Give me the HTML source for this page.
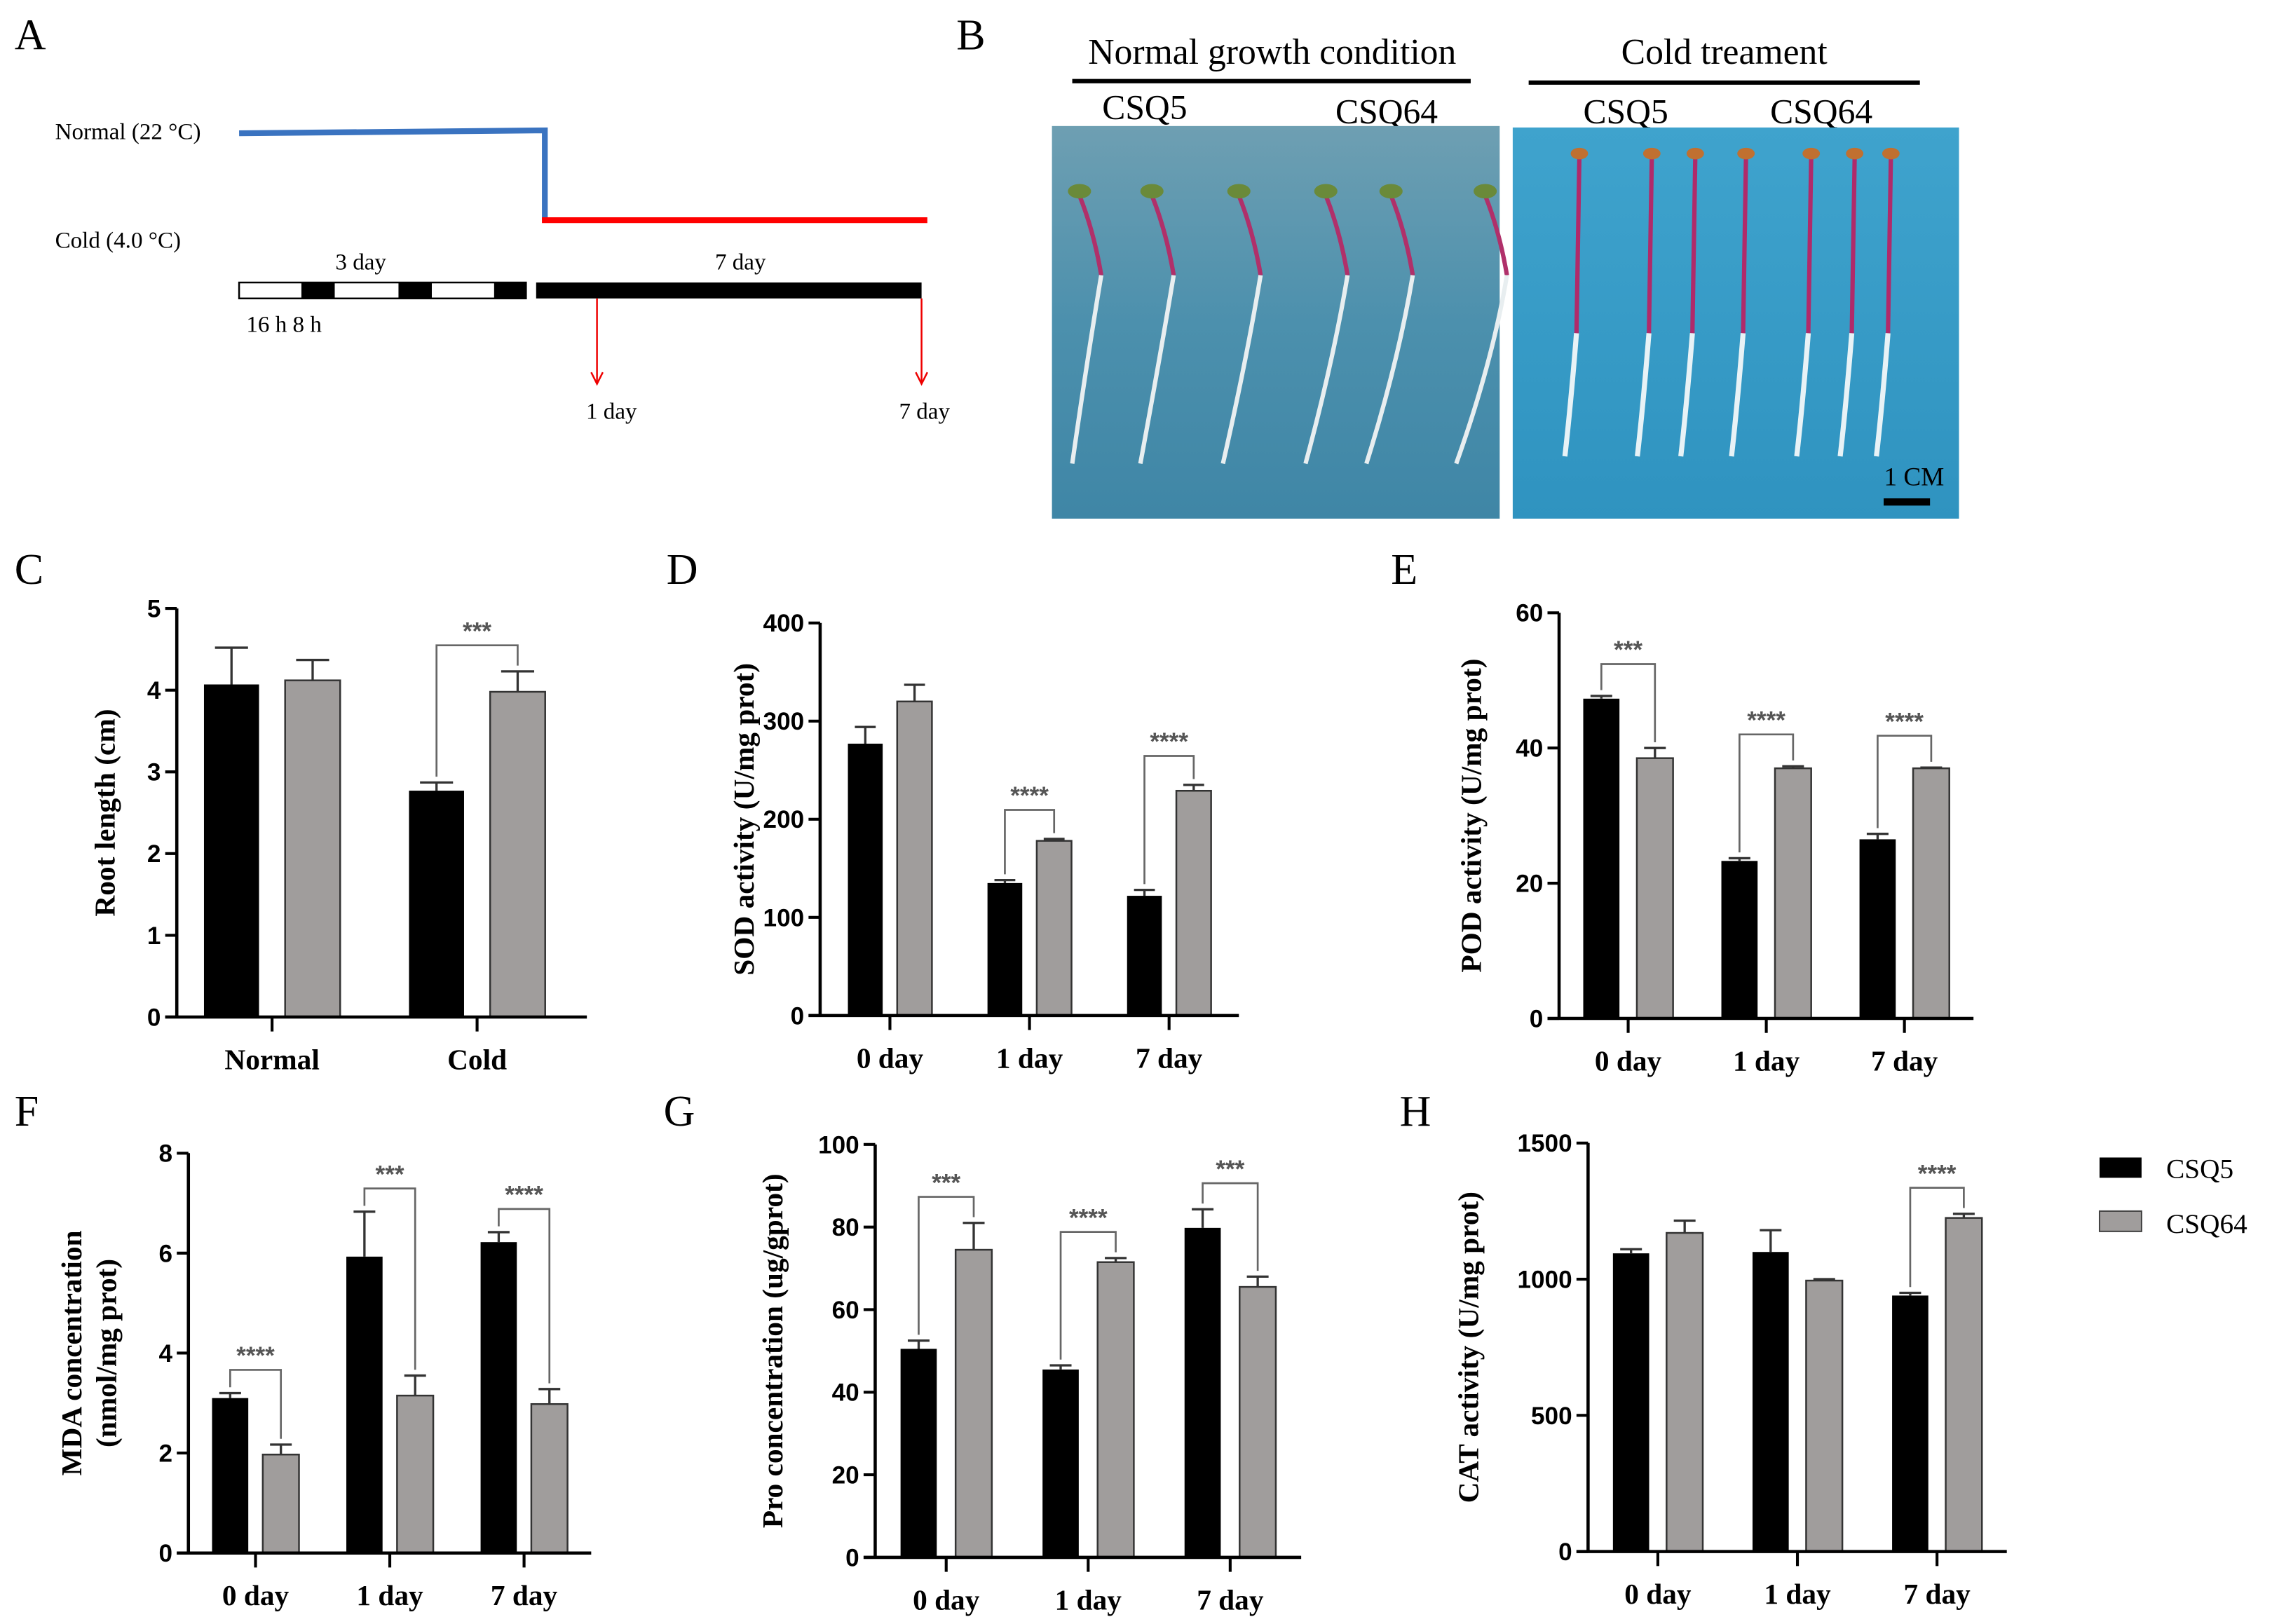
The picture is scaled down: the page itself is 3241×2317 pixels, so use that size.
<!DOCTYPE html>
<html><head><meta charset="utf-8"><style>
html,body{margin:0;padding:0;background:#fff;}
svg{display:block;}
.lbl{font-family:"Liberation Serif",serif;}
.tick{font-family:"Liberation Sans",sans-serif;font-weight:bold;font-size:17px;}
.cat{font-family:"Liberation Serif",serif;font-weight:bold;font-size:20px;}
.ytitle{font-family:"Liberation Serif",serif;font-weight:bold;font-size:20px;}
.star{font-family:"Liberation Sans",sans-serif;font-weight:bold;font-size:17px;fill:#555;}
</style></head><body>
<svg id="fig" width="3241" height="2317" viewBox="0 0 1568 1121" xmlns="http://www.w3.org/2000/svg">
<defs>
<linearGradient id="plateL" x1="0" y1="0" x2="0" y2="1"><stop offset="0" stop-color="#6e9fb2"/><stop offset="0.5" stop-color="#4c90ad"/><stop offset="1" stop-color="#3f86a6"/></linearGradient>
<linearGradient id="plateR" x1="0" y1="0" x2="0" y2="1"><stop offset="0" stop-color="#3fa3cd"/><stop offset="1" stop-color="#2f93c0"/></linearGradient>
</defs>
<g class="lbl" font-size="30">
<text x="10" y="34">A</text><text x="660" y="34">B</text>
<text x="10" y="403">C</text><text x="460" y="403">D</text><text x="960" y="403">E</text>
<text x="10" y="777">F</text><text x="458" y="777">G</text><text x="966" y="777">H</text>
</g>
<g>
<text class="lbl" x="38" y="96" font-size="16">Normal (22 °C)</text>
<text class="lbl" x="38" y="171" font-size="16">Cold (4.0 °C)</text>
<polyline points="165,92 376,90 376,152" fill="none" stroke="#3a73c0" stroke-width="4"/>
<line x1="374" y1="152" x2="640" y2="152" stroke="#f00" stroke-width="4"/>
<rect x="165" y="195" width="198" height="11" fill="#fff" stroke="#000" stroke-width="1.2"/>
<rect x="208" y="195" width="23" height="11" fill="#000"/>
<rect x="275" y="195" width="23" height="11" fill="#000"/>
<rect x="341" y="195" width="22" height="11" fill="#000"/>
<rect x="370" y="195" width="266" height="11" fill="#000"/>
<text class="lbl" x="249" y="186" font-size="16" text-anchor="middle">3 day</text>
<text class="lbl" x="511" y="186" font-size="16" text-anchor="middle">7 day</text>
<text class="lbl" x="170" y="229" font-size="16">16 h  8 h</text>
<line x1="412" y1="206" x2="412" y2="264" stroke="#e00" stroke-width="1.2"/>
<polyline points="408,257 412,265 416,257" fill="none" stroke="#e00" stroke-width="1.2"/>
<line x1="636" y1="206" x2="636" y2="264" stroke="#e00" stroke-width="1.2"/>
<polyline points="632,257 636,265 640,257" fill="none" stroke="#e00" stroke-width="1.2"/>
<text class="lbl" x="422" y="289" font-size="16" text-anchor="middle">1 day</text>
<text class="lbl" x="638" y="289" font-size="16" text-anchor="middle">7 day</text>
</g>
<g>
<text class="lbl" x="878" y="44" font-size="25" text-anchor="middle">Normal growth condition</text>
<line x1="740" y1="56" x2="1015" y2="56" stroke="#000" stroke-width="3"/>
<text class="lbl" x="1190" y="44" font-size="25" text-anchor="middle">Cold treament</text>
<line x1="1055" y1="57" x2="1325" y2="57" stroke="#000" stroke-width="3"/>
<text class="lbl" x="790" y="82" font-size="24" text-anchor="middle">CSQ5</text>
<text class="lbl" x="957" y="85" font-size="24" text-anchor="middle">CSQ64</text>
<text class="lbl" x="1122" y="85" font-size="24" text-anchor="middle">CSQ5</text>
<text class="lbl" x="1257" y="85" font-size="24" text-anchor="middle">CSQ64</text>
<rect x="726" y="87" width="309" height="271" fill="url(#plateL)"/>
<rect x="1044" y="88" width="308" height="270" fill="url(#plateR)"/>
<g id="seedlings"></g>
<text class="lbl" x="1321" y="335" font-size="18" text-anchor="middle">1 CM</text>
<rect x="1300" y="344" width="32" height="5" fill="#000"/>
</g>
<g id="charts"></g>
<g>
<rect x="1449" y="799" width="29" height="14" fill="#000"/>
<text class="lbl" x="1495" y="813" font-size="19">CSQ5</text>
<rect x="1449" y="836" width="29" height="14" fill="#a09d9c" stroke="#444"/>
<text class="lbl" x="1495" y="851" font-size="19">CSQ64</text>
</g>
</svg>
<script>
const NS='http://www.w3.org/2000/svg';
function mk(parent,tag,attrs,txt){const e=document.createElementNS(NS,tag);for(const k in attrs)e.setAttribute(k,attrs[k]);if(txt!==undefined)e.textContent=txt;parent.appendChild(e);return e;}

const sg=document.getElementById('seedlings');
const normalX=[745,795,855,915,960,1025];
const coldX=[1090,1140,1170,1205,1250,1280,1305];
normalX.forEach((x,i)=>{
  mk(sg,'path',{d:`M${x} 135 Q${x+10} 160 ${x+15} 190`,stroke:'#b0306a','stroke-width':3,fill:'none'});
  mk(sg,'path',{d:`M${x+15} 190 Q${x+5} 250 ${x-5-i*3} 320`,stroke:'#e8eef0','stroke-width':3,fill:'none'});
  mk(sg,'ellipse',{cx:x,cy:132,rx:8,ry:5,fill:'#6a8a3a'});
});
coldX.forEach((x,i)=>{
  mk(sg,'path',{d:`M${x} 108 L${x-2} 230`,stroke:'#b02a6a','stroke-width':3,fill:'none'});
  mk(sg,'path',{d:`M${x-2} 230 Q${x-6} 280 ${x-10} 315`,stroke:'#e8f2f6','stroke-width':3.5,fill:'none'});
  mk(sg,'ellipse',{cx:x,cy:106,rx:6,ry:4,fill:'#c07030'});
});

const catsC=['Normal','Cold'];
const csq5C=[4.07,2.77], csq5ErrC=[0.45,0.1];
const csq64C=[4.12,3.98], csq64ErrC=[0.25,0.25];
const ticksC=[0,1,2,3,4,5];
const sigC=['','***'];

const catsDay=['0 day','1 day','7 day'];
const csq5D=[277,135,122], csq5ErrD=[17,3,6];
const csq64D=[320,178,229], csq64ErrD=[17,2,6];
const ticksD=[0,100,200,300,400];
const sigD=['','****','****'];

const csq5E=[47.3,23.3,26.5], csq5ErrE=[0.4,0.4,0.8];
const csq64E=[38.5,37,37], csq64ErrE=[1.5,0.3,0.1];
const ticksE=[0,20,40,60];
const sigE=['***','****','****'];

const csq5F=[3.1,5.93,6.22], csq5ErrF=[0.1,0.9,0.2];
const csq64F=[1.97,3.15,2.98], csq64ErrF=[0.2,0.4,0.3];
const ticksF=[0,2,4,6,8];
const sigF=['****','***','****'];

const csq5G=[50.5,45.5,79.8], csq5ErrG=[2,1,4.5];
const csq64G=[74.5,71.5,65.5], csq64ErrG=[6.5,1,2.5];
const ticksG=[0,20,40,60,80,100];
const sigG=['***','****','***'];

const csq5H=[1095,1100,940], csq5ErrH=[15,80,10];
const csq64H=[1170,995,1225], csq64ErrH=[45,5,15];
const ticksH=[0,500,1000,1500];
const sigH=['','','****'];

const root=document.getElementById('charts');
function chart(o){
  const g=mk(root,'g',{});
  
  
  const ymax=o.ticks[o.ticks.length-1];
  const y=v=>o.y0-(v/ymax)*(o.y0-o.y1);
  const n=o.cats.length, gw=(o.x1-o.xa)/n;
  const cx=i=>o.xa+gw*(i+0.5)+(o.off||0);
  const bw=o.bw, gap=o.gap;
  for(let i=0;i<n;i++){
    const bx=cx(i)-gap/2-bw, gx=cx(i)+gap/2;
    const b1=mk(g,'rect',{x:bx,y:y(o.a[i]),width:bw,height:o.y0-y(o.a[i]),fill:'#000'});
    
    
    mk(g,'path',{d:`M${bx+bw/2} ${y(o.a[i])} V${y(o.a[i]+o.ae[i])} M${bx+bw/2-bw*0.3} ${y(o.a[i]+o.ae[i])} H${bx+bw/2+bw*0.3}`,stroke:'#333','stroke-width':1.6,fill:'none'});
    const b2=mk(g,'rect',{x:gx,y:y(o.b[i]),width:bw,height:o.y0-y(o.b[i]),fill:'#a09d9c',stroke:'#333','stroke-width':1.2});
    
    
    mk(g,'path',{d:`M${gx+bw/2} ${y(o.b[i])} V${y(o.b[i]+o.be[i])} M${gx+bw/2-bw*0.3} ${y(o.b[i]+o.be[i])} H${gx+bw/2+bw*0.3}`,stroke:'#333','stroke-width':1.6,fill:'none'});
    if(o.sig[i]){
      const ta=y(o.a[i]+o.ae[i]), tb=y(o.b[i]+o.be[i]);
      const top=Math.min(ta,tb)-o.bh;
      mk(g,'path',{d:`M${bx+bw/2} ${ta-4} V${top} H${gx+bw/2} V${tb-4}`,stroke:'#666','stroke-width':1.3,fill:'none'});
      const s=mk(g,'text',{x:(bx+gx+bw)/2,y:top-4,'text-anchor':'middle',class:'star'},o.sig[i]);
      
      
    }
    mk(g,'line',{x1:cx(i),y1:o.y0,x2:cx(i),y2:o.y0+10,stroke:'#000','stroke-width':2});
    const c=mk(g,'text',{x:cx(i),y:o.y0+36,'text-anchor':'middle',class:'cat'},o.cats[i]);
    
    
  }
  const ax=mk(g,'path',{d:`M${o.xa} ${o.y1} V${o.y0} M${o.xa-8} ${o.y0} H${o.x1}`,stroke:'#000','stroke-width':2.2,fill:'none'});
  
  
  o.ticks.forEach(t=>{
    mk(g,'line',{x1:o.xa-8,y1:y(t),x2:o.xa,y2:y(t),stroke:'#000','stroke-width':2});
    const tl=mk(g,'text',{x:o.xa-11,y:y(t)+6,'text-anchor':'end',class:'tick'},t);
    
    
  });
  const midY=(o.y0+o.y1)/2;
  const tt=mk(g,'text',{transform:`translate(${o.tx},${midY}) rotate(-90)`,'text-anchor':'middle',class:'ytitle'});
  
  
  o.title.forEach((line,k)=>{mk(tt,'tspan',{x:0,dy:k?24:0},line);});
}
chart({name:'chart-c-root-length',xa:122,x1:405,y0:702,y1:420,off:-5,ticks:ticksC,cats:catsC,a:csq5C,ae:csq5ErrC,b:csq64C,be:csq64ErrC,sig:sigC,bw:38,gap:18,bh:18,tx:79,title:['Root length (cm)']});
chart({name:'chart-d-sod',xa:566,x1:855,y0:701,y1:430,ticks:ticksD,cats:catsDay,a:csq5D,ae:csq5ErrD,b:csq64D,be:csq64ErrD,sig:sigD,bw:24,gap:10,bh:20,tx:520,title:['SOD activity (U/mg prot)']});
chart({name:'chart-e-pod',xa:1076,x1:1362,y0:703,y1:423,ticks:ticksE,cats:catsDay,a:csq5E,ae:csq5ErrE,b:csq64E,be:csq64ErrE,sig:sigE,bw:25,gap:12,bh:22,tx:1022,title:['POD activity (U/mg prot)']});
chart({name:'chart-f-mda',xa:130,x1:408,y0:1072,y1:796,ticks:ticksF,cats:catsDay,a:csq5F,ae:csq5ErrF,b:csq64F,be:csq64ErrF,sig:sigF,bw:25,gap:10,bh:16,tx:56,title:['MDA concentration','(nmol/mg prot)']});
chart({name:'chart-g-pro',xa:604,x1:898,y0:1075,y1:790,ticks:ticksG,cats:catsDay,a:csq5G,ae:csq5ErrG,b:csq64G,be:csq64ErrG,sig:sigG,bw:25,gap:13,bh:18,tx:540,title:['Pro concentration (ug/gprot)']});
chart({name:'chart-h-cat',xa:1096,x1:1385,y0:1071,y1:789,ticks:ticksH,cats:catsDay,a:csq5H,ae:csq5ErrH,b:csq64H,be:csq64ErrH,sig:sigH,bw:25,gap:12,bh:18,tx:1020,title:['CAT activity (U/mg prot)']});
</script>
</body></html>
